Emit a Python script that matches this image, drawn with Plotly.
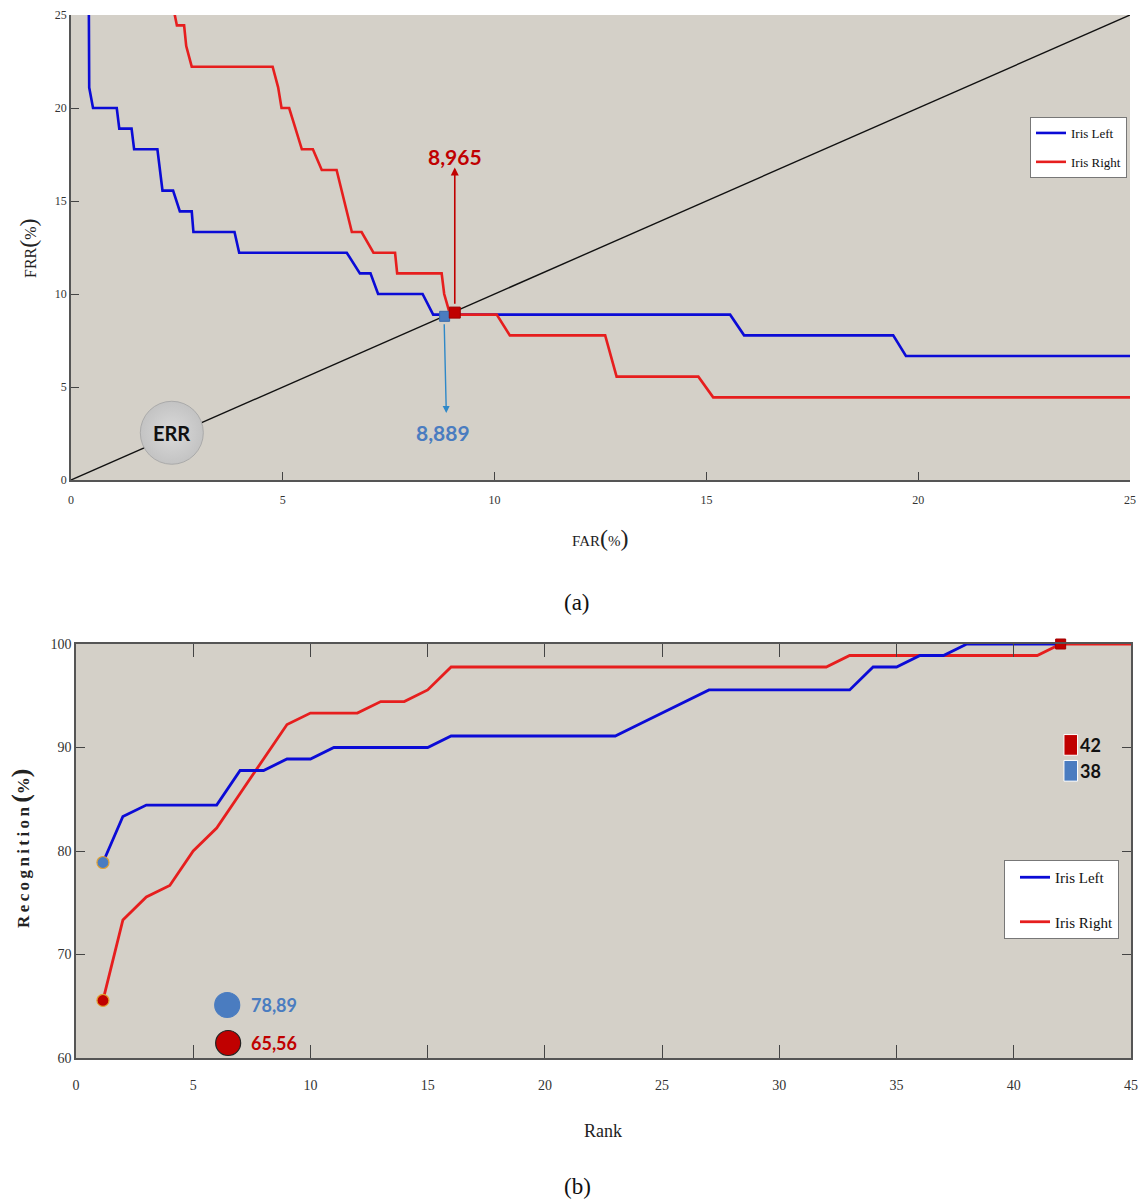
import plotly.graph_objects as go

# ---------------- Data: (a) DET-style FAR/FRR curves ----------------
FAR_LEFT = [0.42, 0.43, 0.52, 1.08, 1.14, 1.43, 1.49, 2.04, 2.16, 2.41, 2.57, 2.85, 2.89,
            3.86, 3.97, 6.51, 6.82, 7.07, 7.25, 8.30, 8.55, 15.56, 15.89, 19.41, 19.71, 25.0]
FRR_LEFT = [26.0, 21.1, 20.0, 20.0, 18.89, 18.89, 17.78, 17.78, 15.56, 15.56, 14.44, 14.44, 13.33,
            13.33, 12.22, 12.22, 11.11, 11.11, 10.0, 10.0, 8.889, 8.889, 7.778, 7.778, 6.667, 6.667]

FAR_RIGHT = [2.40, 2.45, 2.50, 2.67, 2.72, 2.85, 4.76, 4.89, 4.97, 5.15, 5.30, 5.45, 5.71, 5.92,
             6.27, 6.50, 6.63, 6.86, 7.14, 7.65, 7.70, 8.75, 8.81, 8.95, 10.05, 10.36, 12.61,
             12.88, 14.81, 15.16, 25.0]
FRR_RIGHT = [26.0, 25.0, 24.44, 24.44, 23.33, 22.22, 22.22, 21.11, 20.0, 20.0, 18.89, 17.78, 17.78,
             16.67, 16.67, 14.44, 13.33, 13.33, 12.22, 12.22, 11.11, 11.11, 10.0, 8.889, 8.889,
             7.778, 7.778, 5.556, 5.556, 4.444, 4.444]

EQUAL_LINE = [0, 25]

EER_LEFT_POINT = (8.82, 8.80)
EER_RIGHT_POINT = (9.06, 9.00)
EER_LEFT_LABEL = "8,889"
EER_RIGHT_LABEL = "8,965"

# ---------------- Data: (b) CMC curves ----------------
RANK_LEFT = [1.15] + list(range(2, 43))
REC_LEFT = [78.89, 83.33, 84.44, 84.44, 84.44, 84.44, 87.78, 87.78, 88.89, 88.89,
            90.00, 90.00, 90.00, 90.00, 90.00, 91.11, 91.11, 91.11, 91.11, 91.11,
            91.11, 91.11, 91.11, 92.22, 93.33, 94.44, 95.56, 95.56, 95.56, 95.56,
            95.56, 95.56, 95.56, 97.78, 97.78, 98.89, 98.89, 100.0, 100.0, 100.0,
            100.0, 100.0]

RANK_RIGHT = [1.15] + list(range(2, 46))
REC_RIGHT = [65.56, 73.33, 75.56, 76.67, 80.00, 82.22, 85.56, 88.89, 92.22, 93.33,
             93.33, 93.33, 94.44, 94.44, 95.56, 97.78, 97.78, 97.78, 97.78, 97.78,
             97.78, 97.78, 97.78, 97.78, 97.78, 97.78, 97.78, 97.78, 97.78, 97.78,
             97.78, 97.78, 98.89, 98.89, 98.89, 98.89, 98.89, 98.89, 98.89, 98.89,
             98.89, 100.0, 100.0, 100.0, 100.0]

RANK100_LEFT = 38
RANK100_RIGHT = 42
REC1_LEFT_LABEL = "78,89"
REC1_RIGHT_LABEL = "65,56"

BLUE = "#0b0bd6"
RED = "#e61e1e"
DARK_RED = "#c00000"
MID_BLUE = "#4a7cc0"
BG = "#d4d0c8"
SERIF = "Liberation Serif"
SANS = "Lato"

fig = go.Figure()

# ---- (a) ----
fig.add_trace(go.Scatter(x=EQUAL_LINE, y=EQUAL_LINE, mode="lines",
                         line=dict(color="#111111", width=1.4), showlegend=False,
                         xaxis="x", yaxis="y", hoverinfo="skip"))
fig.add_trace(go.Scatter(x=[2.38], y=[2.54], mode="markers",
                         marker=dict(size=63, color="#c3c3c3",
                                     gradient=dict(type="radial", color="#dadada"),
                                     line=dict(color="#aaaaaa", width=1)),
                         showlegend=False, xaxis="x", yaxis="y", hoverinfo="skip"))
fig.add_trace(go.Scatter(x=FAR_LEFT, y=FRR_LEFT, mode="lines", name="Iris Left",
                         line=dict(color=BLUE, width=2.6), legend="legend",
                         legendgroup="a1", xaxis="x", yaxis="y"))
fig.add_trace(go.Scatter(x=FAR_RIGHT, y=FRR_RIGHT, mode="lines", name="Iris Right",
                         line=dict(color=RED, width=2.6), legend="legend",
                         legendgroup="a2", xaxis="x", yaxis="y"))
fig.add_trace(go.Scatter(x=[EER_LEFT_POINT[0]], y=[EER_LEFT_POINT[1]], mode="markers",
                         marker=dict(symbol="square", size=10, color=MID_BLUE,
                                     line=dict(color="#3a6aa8", width=1)),
                         showlegend=False, xaxis="x", yaxis="y"))
fig.add_trace(go.Scatter(x=[EER_RIGHT_POINT[0]], y=[EER_RIGHT_POINT[1]], mode="markers",
                         marker=dict(symbol="square", size=11, color=DARK_RED,
                                     line=dict(color="#a00000", width=1)),
                         showlegend=False, xaxis="x", yaxis="y"))

# ---- (b) ----
fig.add_trace(go.Scatter(x=RANK_RIGHT, y=REC_RIGHT, mode="lines", name="Iris Right",
                         line=dict(color=RED, width=2.8), legend="legend2",
                         legendgroup="b2", legendrank=2, xaxis="x2", yaxis="y2"))
fig.add_trace(go.Scatter(x=RANK_LEFT, y=REC_LEFT, mode="lines", name="Iris Left",
                         line=dict(color=BLUE, width=2.8), legend="legend2",
                         legendgroup="b1", legendrank=1, xaxis="x2", yaxis="y2"))
fig.add_trace(go.Scatter(x=[RANK_LEFT[0], RANK_RIGHT[0]], y=[REC_LEFT[0], REC_RIGHT[0]],
                         mode="markers",
                         marker=dict(size=12, color=[MID_BLUE, DARK_RED],
                                     line=dict(color="#e0a030", width=1.2)),
                         showlegend=False, xaxis="x2", yaxis="y2"))
fig.add_trace(go.Scatter(x=[RANK100_LEFT], y=[100.15], mode="markers",
                         marker=dict(symbol="square", size=10, color="#6da2dc",
                                     line=dict(color="#3a6aa8", width=1)),
                         showlegend=False, xaxis="x2", yaxis="y2", cliponaxis=False))
fig.add_trace(go.Scatter(x=[RANK100_RIGHT], y=[100.0], mode="markers",
                         marker=dict(symbol="square", size=10, color=DARK_RED,
                                     line=dict(color="#a00000", width=1)),
                         showlegend=False, xaxis="x2", yaxis="y2", cliponaxis=False))
# key circles for the rank-1 values
fig.add_trace(go.Scatter(x=[6.45, 6.49], y=[65.12, 61.45], mode="markers",
                         marker=dict(size=25, color=[MID_BLUE, DARK_RED],
                                     line=dict(color=["#4a7cc0", "#222222"], width=1.2)),
                         showlegend=False, xaxis="x2", yaxis="y2", cliponaxis=False))

axis_common = dict(showgrid=False, zeroline=False, showline=True, linecolor="#555555",
                   linewidth=1.5, ticks="inside", tickcolor="#444444", tickwidth=1.2,
                   automargin=False)

W, H = 1143, 1200
fig.update_layout(
    width=W, height=H, margin=dict(l=0, r=0, t=0, b=0, autoexpand=False),
    paper_bgcolor="white", plot_bgcolor=BG,
    xaxis=dict(domain=[71 / W, 1130 / W], anchor="y", range=[0, 25], dtick=5,
               ticklen=8, ticklabelstandoff=8,
               tickfont=dict(family=SERIF, size=12, color="#333333"), **axis_common),
    yaxis=dict(domain=[1 - 480 / H, 1 - 15 / H], anchor="x", range=[0, 25], dtick=5,
               ticklen=8, tickfont=dict(family=SERIF, size=12, color="#333333"), **axis_common),
    xaxis2=dict(domain=[76 / W, 1131 / W], anchor="y2", range=[0, 45], dtick=5,
                ticklen=13, mirror="ticks", ticklabelstandoff=13,
                tickfont=dict(family=SERIF, size=14, color="#333333"), **axis_common),
    yaxis2=dict(domain=[1 - 1058 / H, 1 - 644 / H], anchor="x2", range=[60, 100], dtick=10,
                ticklen=9, mirror="ticks",
                tickfont=dict(family=SERIF, size=14, color="#333333"), **axis_common),
    legend=dict(x=1030 / W, y=1 - 117 / H, xanchor="left", yanchor="top",
                bgcolor="white", bordercolor="#777777", borderwidth=1,
                font=dict(family=SERIF, size=13, color="#111111"),
                traceorder="grouped", tracegroupgap=9, itemwidth=30),
    legend2=dict(x=1004 / W, y=1 - 860 / H, xanchor="left", yanchor="top",
                 bgcolor="white", bordercolor="#777777", borderwidth=1,
                 font=dict(family=SERIF, size=15, color="#111111"),
                 traceorder="grouped", tracegroupgap=22, itemwidth=30, indentation=10),
    showlegend=True,
)

ann = []
# (a) EER arrows and labels
ann.append(dict(x=EER_RIGHT_POINT[0], y=16.8, ax=EER_RIGHT_POINT[0], ay=9.4,
                xref="x", yref="y", axref="x", ayref="y", text="", showarrow=True,
                arrowhead=2, arrowsize=1, arrowwidth=1.6, arrowcolor=DARK_RED))
ann.append(dict(x=EER_RIGHT_POINT[0], y=17.4, xref="x", yref="y", text="<b>" + EER_RIGHT_LABEL + "</b>",
                showarrow=False, font=dict(family=SANS, size=21, color=DARK_RED)))
ann.append(dict(x=8.86, y=3.6, ax=8.81, ay=8.45,
                xref="x", yref="y", axref="x", ayref="y", text="", showarrow=True,
                arrowhead=2, arrowsize=1, arrowwidth=1.4, arrowcolor="#2e88c8"))
ann.append(dict(x=8.78, y=2.55, xref="x", yref="y", text="<b>" + EER_LEFT_LABEL + "</b>",
                showarrow=False, font=dict(family=SANS, size=21, color=MID_BLUE)))
ann.append(dict(x=2.38, y=2.54, xref="x", yref="y", text="<b>ERR</b>",
                showarrow=False, font=dict(family=SANS, size=20, color="#111111")))
# (b) labels
ann.append(dict(x=7.4, y=65.12, xref="x2", yref="y2", xanchor="left", text="<b>" + REC1_LEFT_LABEL + "</b>",
                showarrow=False, font=dict(family=SANS, size=18, color=MID_BLUE)))
ann.append(dict(x=7.4, y=61.45, xref="x2", yref="y2", xanchor="left", text="<b>" + REC1_RIGHT_LABEL + "</b>",
                showarrow=False, font=dict(family=SANS, size=18, color=DARK_RED)))
ann.append(dict(x=42.75, y=90.24, xref="x2", yref="y2", xanchor="left", text="<b>" + str(RANK100_RIGHT) + "</b>",
                showarrow=False, font=dict(family=SANS, size=18, color="#111111")))
ann.append(dict(x=42.75, y=87.73, xref="x2", yref="y2", xanchor="left", text="<b>" + str(RANK100_LEFT) + "</b>",
                showarrow=False, font=dict(family=SANS, size=18, color="#111111")))

BIGP = "<span style='font-size:24px'>(</span>%<span style='font-size:24px'>)</span>"
# axis titles
ann.append(dict(x=600 / W, y=1 - 538 / H, xref="paper", yref="paper", text="FAR" + BIGP,
                xanchor="center", yanchor="middle",
                showarrow=False, font=dict(family=SERIF, size=15, color="#222222")))
ann.append(dict(x=28 / W, y=1 - 248 / H, xref="paper", yref="paper", text="FRR" + BIGP,
                xanchor="center", yanchor="middle",
                textangle=-90, showarrow=False, font=dict(family=SERIF, size=16, color="#222222")))
ann.append(dict(x=603 / W, y=1 - 1131 / H, xref="paper", yref="paper", text="Rank",
                xanchor="center", yanchor="middle",
                showarrow=False, font=dict(family=SERIF, size=18, color="#222222")))
REC_TITLE = "\u2009".join("Recognition")
ann.append(dict(x=20 / W, y=1 - 848 / H, xref="paper", yref="paper",
                text="<b>" + REC_TITLE + " <span style='font-size:26px'>(</span>%<span style='font-size:26px'>)</span></b>",
                xanchor="center", yanchor="middle",
                textangle=-90, showarrow=False, font=dict(family=SERIF, size=17, color="#222222")))
# panel captions
ann.append(dict(x=577 / W, y=1 - 603 / H, xref="paper", yref="paper", text="(a)",
                xanchor="center", yanchor="middle",
                showarrow=False, font=dict(family=SERIF, size=23, color="#111111")))
ann.append(dict(x=577 / W, y=1 - 1186 / H, xref="paper", yref="paper", text="(b)",
                xanchor="center", yanchor="middle",
                showarrow=False, font=dict(family=SERIF, size=23, color="#111111")))
fig.update_layout(annotations=ann)

# small key rectangles next to "42" / "38"
fig.update_layout(shapes=[
    dict(type="rect", xref="x2", yref="y2", x0=42.14, x1=42.72, y0=89.25, y1=91.25,
         fillcolor=DARK_RED, line=dict(color="white", width=1)),
    dict(type="rect", xref="x2", yref="y2", x0=42.14, x1=42.72, y0=86.75, y1=88.75,
         fillcolor=MID_BLUE, line=dict(color="white", width=1)),
])

fig.write_html("out.html")
